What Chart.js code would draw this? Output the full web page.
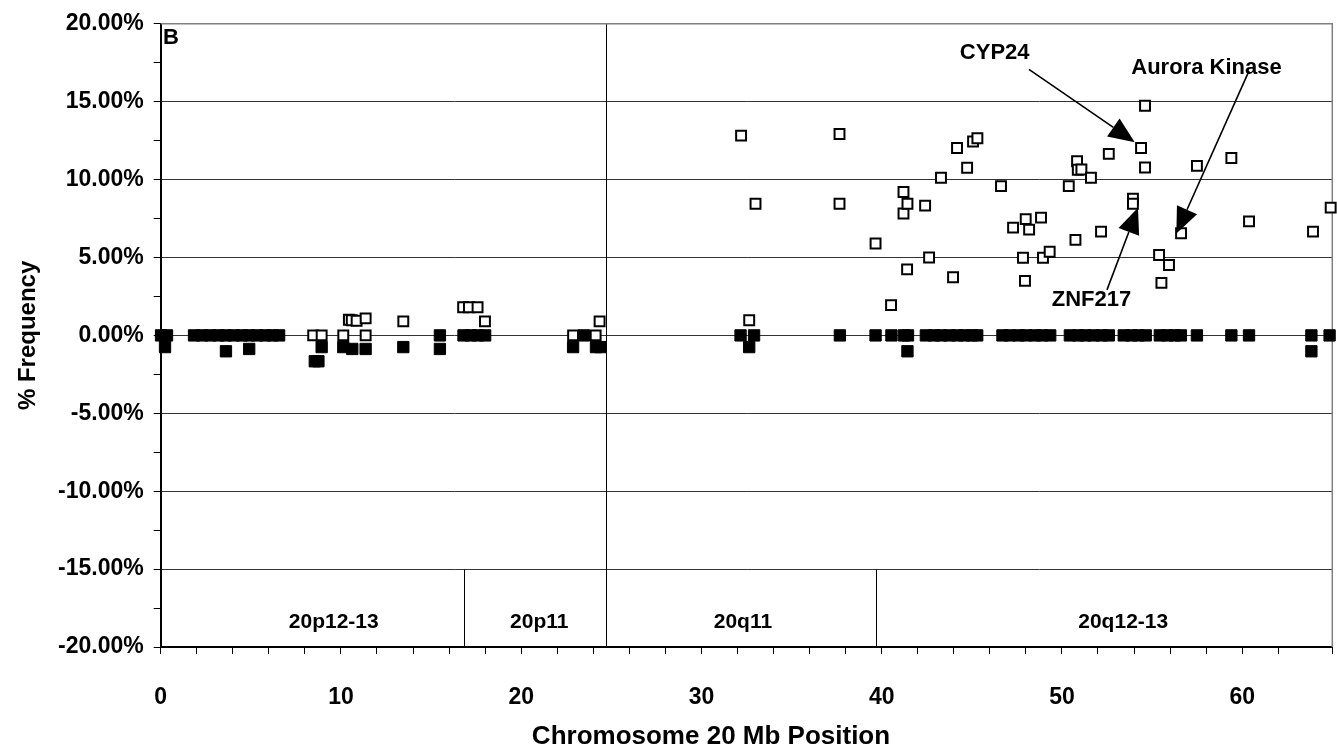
<!DOCTYPE html>
<html>
<head>
<meta charset="utf-8">
<script src="https://cdn.jsdelivr.net/npm/chart.js@4"></script>
<style>
  body { margin: 0; background: #fff; overflow: hidden; }
  #wrap { width: 1337px; height: 747px; }
  canvas { display: block; }
</style>
</head>
<body>
<div id="wrap"><canvas id="myChart"></canvas></div>
<script>
// gains (open squares): position in Mb, frequency in %
const gainPos = [8.46, 8.93, 10.13, 10.44, 10.6, 10.87, 11.37, 11.37, 13.46, 16.78, 17.10, 17.58, 17.99, 22.88, 24.13, 24.35,
  32.20, 32.65, 33.0, 37.66, 37.66, 39.66, 40.52, 41.21, 41.21, 41.41, 41.43, 42.41, 42.63, 43.29, 43.96, 44.18, 44.74,
  45.07, 45.31, 46.62, 47.29, 47.84, 47.95, 47.99, 48.18, 48.84, 48.95, 49.32, 50.38, 50.75, 50.84, 50.88, 51.08, 51.61,
  52.17, 52.60, 53.94, 53.94, 54.39, 54.61, 54.61, 55.39, 55.52, 55.94, 56.61, 57.49, 59.40, 60.38, 63.93, 64.91];
const gainFreq = [0, 0, 0, 1.0, 0.97, 0.94, 1.09, 0, 0.9, 1.81, 1.81, 1.81, 0.9, 0, 0, 0.9,
  12.82, 0.97, 8.45, 12.93, 8.45, 5.90, 1.94, 9.20, 7.82, 4.24, 8.45, 8.33, 5.0, 10.12, 3.73, 12.03, 10.76,
  12.45, 12.65, 9.58, 6.92, 4.98, 3.50, 7.46, 6.79, 7.56, 4.98, 5.37, 9.58, 6.13, 11.18, 10.63, 10.65, 10.12,
  6.66, 11.65, 8.77, 8.45, 12.03, 14.74, 10.78, 5.16, 3.37, 4.52, 6.56, 10.88, 11.39, 7.32, 6.66, 8.2];

// losses (filled squares)
const lossPos = [0.02, 0.35, 0.24, 1.85, 2.3, 2.75, 3.2, 3.6, 4.05, 4.5, 4.9, 5.35, 5.8, 6.2, 6.57, 3.62, 4.91,
  8.55, 8.75, 8.93, 10.13, 10.63, 11.37, 13.46, 15.49, 15.49, 16.8, 17.2, 17.6, 18.0, 22.88, 23.48, 24.15, 24.4,
  32.17, 32.92, 32.65, 37.68, 39.66, 40.54, 41.23, 41.46, 41.43, 42.45, 42.9, 43.3, 43.75, 44.2, 44.6, 45.0, 45.3,
  46.7, 47.1, 47.6, 48.0, 48.5, 48.9, 49.35, 50.44, 50.9, 51.3, 51.75, 52.2, 52.6, 53.43, 53.85, 54.25, 54.65,
  55.43, 55.85, 56.25, 56.6, 57.49, 59.4, 60.38, 63.84, 64.85, 63.84];
const lossFreq = [0, 0, -0.75, 0, 0, 0, 0, 0, 0, 0, 0, 0, 0, 0, 0, -1.02, -0.87,
  -1.66, -1.66, -0.75, -0.75, -0.87, -0.87, -0.75, 0, -0.87, 0, 0, 0, 0, -0.75, 0, -0.75, -0.75,
  0, 0, -0.75, 0, 0, 0, 0, 0, -1.02, 0, 0, 0, 0, 0, 0, 0, 0,
  0, 0, 0, 0, 0, 0, 0, 0, 0, 0, 0, 0, 0, 0, 0, 0, 0,
  0, 0, 0, 0, 0, 0, 0, 0, 0, -1.02];

const xTicks = [0, 10, 20, 30, 40, 50, 60];
const yTicks = [-20, -15, -10, -5, 0, 5, 10, 15, 20];
const xTitle = 'Chromosome 20 Mb Position';

// band labels along the bottom and their boundaries (Mb)
const bandNames = ['20p12-13', '20p11', '20q11', '20q12-13'];
const bandCenters = [9.6, 21.0, 32.3, 53.4];
const bandEdges = [16.84, 39.69];
const centromere = 24.7;

// gene callouts: text anchor, arrow start, arrow tip (Mb, %)
const geneNames = ['CYP24', 'Aurora Kinase', 'ZNF217'];
const geneText = [[46.27, 18.1], [58.02, 17.19], [51.64, 2.28]];
const geneFrom = [[48.17, 17.08], [60.38, 16.98], [52.5, 2.92]];
const geneTo = [[54.04, 12.4], [56.35, 6.54], [54.22, 8.2]];

const FONT = 'Arial, "Liberation Sans", sans-serif';

function arrow(ctx, x0, y0, x1, y1) {
  const a = Math.atan2(y1 - y0, x1 - x0);
  const len = 26, half = 11;
  const bx = x1 - len * Math.cos(a), by = y1 - len * Math.sin(a);
  ctx.beginPath();
  ctx.moveTo(x0, y0);
  ctx.lineTo(bx, by);
  ctx.stroke();
  ctx.beginPath();
  ctx.moveTo(x1, y1);
  ctx.lineTo(bx + half * Math.sin(a), by - half * Math.cos(a));
  ctx.lineTo(bx - half * Math.sin(a), by + half * Math.cos(a));
  ctx.closePath();
  ctx.fill();
}

const extras = {
  id: 'extras',
  beforeDatasetsDraw(chart) {
    const {ctx, chartArea: a, scales: {x, y}} = chart;
    ctx.save();
    ctx.strokeStyle = '#000';
    ctx.lineWidth = 1;
    let px = Math.round(x.getPixelForValue(centromere)) + 0.5;
    ctx.beginPath();
    ctx.moveTo(px, a.top);
    ctx.lineTo(px, a.bottom);
    ctx.stroke();
    for (const e of bandEdges) {
      px = Math.round(x.getPixelForValue(e)) + 0.5;
      ctx.beginPath();
      ctx.moveTo(px, y.getPixelForValue(-15));
      ctx.lineTo(px, a.bottom);
      ctx.stroke();
    }
    // plot area frame (top / right)
    ctx.strokeStyle = '#808080';
    ctx.lineWidth = 1.5;
    ctx.beginPath();
    ctx.moveTo(a.left, a.top);
    ctx.lineTo(a.right, a.top);
    ctx.lineTo(a.right, a.bottom);
    ctx.stroke();
    ctx.restore();
  },
  afterDatasetsDraw(chart) {
    const {ctx, scales: {x, y}} = chart;
    ctx.save();
    ctx.fillStyle = '#000';
    ctx.strokeStyle = '#000';
    ctx.lineWidth = 1.6;
    ctx.textAlign = 'center';
    ctx.textBaseline = 'middle';
    ctx.font = 'bold 21px ' + FONT;
    bandNames.forEach((n, i) => {
      ctx.fillText(n, x.getPixelForValue(bandCenters[i]), y.getPixelForValue(-18.38));
    });
    ctx.font = 'bold 22px ' + FONT;
    geneNames.forEach((n, i) => {
      ctx.fillText(n, x.getPixelForValue(geneText[i][0]), y.getPixelForValue(geneText[i][1]));
      arrow(ctx, x.getPixelForValue(geneFrom[i][0]), y.getPixelForValue(geneFrom[i][1]),
        x.getPixelForValue(geneTo[i][0]), y.getPixelForValue(geneTo[i][1]));
    });
    ctx.textAlign = 'left';
    ctx.fillText('B', x.getPixelForValue(0.13), y.getPixelForValue(19.1));
    // axis title, centred on the whole figure like the original
    ctx.textAlign = 'center';
    ctx.font = 'bold 26px ' + FONT;
    ctx.fillText(xTitle, 711, 737);
    ctx.restore();
  }
};

const ctx = document.getElementById('myChart');

new Chart(ctx, {
  type: 'scatter',
  data: {
    datasets: [
      {
        label: 'Gain',
        data: gainPos.map((v, i) => ({x: v, y: gainFreq[i]})),
        pointStyle: 'rect',
        pointRadius: 7,
        pointBackgroundColor: '#fff',
        pointBorderColor: '#000',
        pointBorderWidth: 2,
        clip: false,
        order: 0
      },
      {
        label: 'Loss',
        data: lossPos.map((v, i) => ({x: v, y: lossFreq[i]})),
        pointStyle: 'rect',
        pointRadius: 8,
        pointBackgroundColor: '#000',
        pointBorderColor: '#000',
        pointBorderWidth: 1,
        clip: false,
        order: 1
      }
    ]
  },
  options: {
    responsive: true,
    maintainAspectRatio: false,
    animation: false,
    layout: { autoPadding: false, padding: { left: 0, right: 4.7, top: 21, bottom: 0 } },
    plugins: { legend: { display: false }, tooltip: { enabled: false } },
    scales: {
      x: {
        type: 'linear',
        min: 0,
        max: 65,
        afterFit: s => { s.height = 100; s.paddingRight = 0; s.paddingLeft = 0; },
        border: { color: '#000', width: 2 },
        grid: { drawOnChartArea: false, tickLength: 7, tickColor: '#000' },
        ticks: {
          stepSize: 2,
          autoSkip: false,
          maxRotation: 0,
          padding: 30,
          color: '#000',
          font: { family: FONT, size: 23, weight: 'bold' },
          callback: v => xTicks.includes(v) ? String(v) : ''
        },
        title: { display: false }
      },
      y: {
        min: -20,
        max: 20,
        afterFit: s => { s.width = 160.7; },
        border: { color: '#000', width: 2 },
        grid: {
          tickLength: 7,
          tickColor: '#000',
          lineWidth: 1,
          color: c => (yTicks.includes(c.tick.value) && c.tick.value !== 20) ? '#333' : 'rgba(0,0,0,0)'
        },
        ticks: {
          stepSize: 2.5,
          autoSkip: false,
          padding: 10,
          color: '#000',
          font: { family: FONT, size: 23, weight: 'bold' },
          callback: v => yTicks.includes(v) ? v.toFixed(2) + '%' : ''
        },
        title: {
          display: true,
          text: '% Frequency',
          color: '#000',
          font: { family: FONT, size: 24, weight: 'bold', lineHeight: 1.2 },
          padding: { top: 13.6, bottom: 0 }
        }
      }
    }
  },
  plugins: [extras]
});
</script>
</body>
</html>
